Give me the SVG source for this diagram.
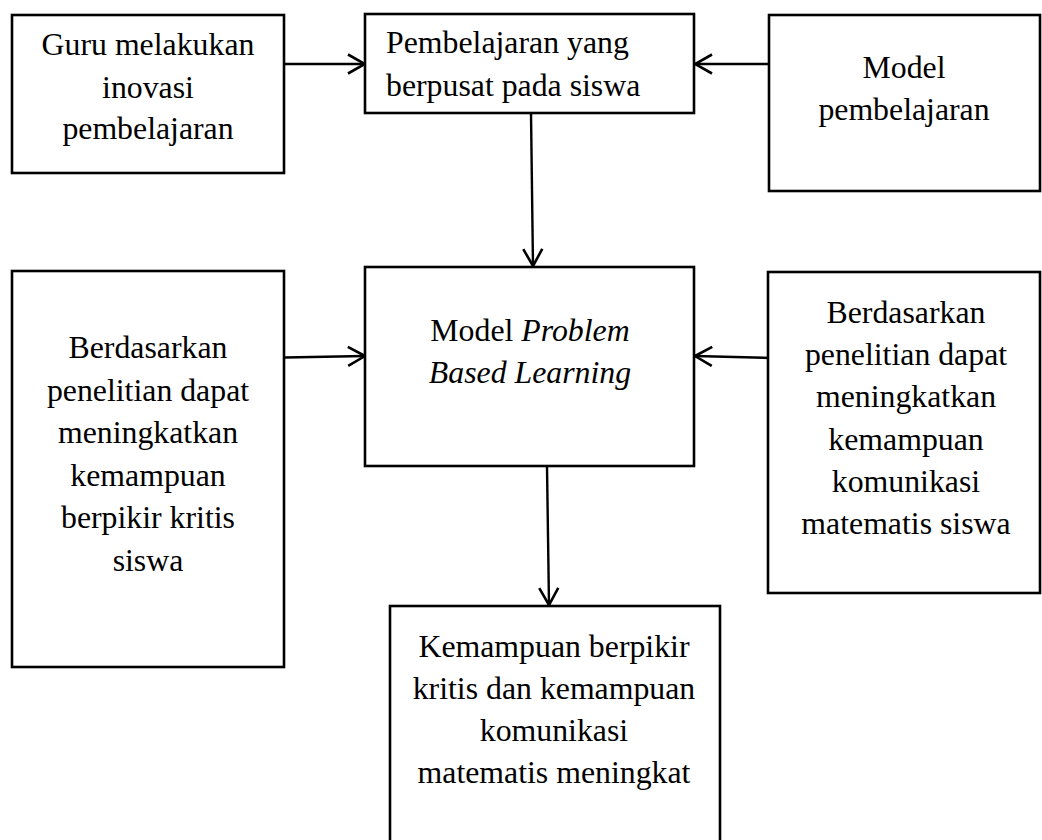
<svg xmlns="http://www.w3.org/2000/svg" width="1042" height="840" viewBox="0 0 1042 840">
<style>
.box{fill:#fff;stroke:#000;stroke-width:2.6}
.t{font-family:"Liberation Serif","Times New Roman",serif;font-size:31.8px;fill:#000;text-anchor:middle}
.l{text-anchor:start}
.i{font-style:italic}
.c{stroke:#000;stroke-width:2.4;fill:none}
</style>
<defs>
<marker id="arr" markerUnits="userSpaceOnUse" viewBox="0 0 20 22" refX="18" refY="11" markerWidth="20" markerHeight="22" orient="auto">
<path d="M1,1.5 L18,11 L1,20.5" fill="none" stroke="#000" stroke-width="2.6"/>
</marker>
</defs>
<rect width="1042" height="840" fill="#fff"/>
<g id="connectors">
<line class="c" x1="285" y1="64" x2="365" y2="64" marker-end="url(#arr)"/>
<line class="c" x1="769" y1="64" x2="695" y2="64" marker-end="url(#arr)"/>
<line class="c" x1="531" y1="113" x2="533" y2="266" marker-end="url(#arr)"/>
<line class="c" x1="285" y1="357.5" x2="365" y2="356" marker-end="url(#arr)"/>
<line class="c" x1="772" y1="358" x2="695" y2="356" marker-end="url(#arr)"/>
<line class="c" x1="547" y1="466" x2="549" y2="605" marker-end="url(#arr)"/>
</g>
<g id="guru">
<rect class="box" x="12" y="15" width="272" height="158"/>
<text class="t" x="148" y="55">Guru melakukan</text>
<text class="t" x="148" y="97.5">inovasi</text>
<text class="t" x="148" y="139">pembelajaran</text>
</g>
<g id="pembelajaran">
<rect class="box" x="365" y="14" width="329" height="99"/>
<text class="t l" x="386" y="53">Pembelajaran yang</text>
<text class="t l" x="386" y="96">berpusat pada siswa</text>
</g>
<g id="model">
<rect class="box" x="769" y="15" width="271" height="176"/>
<text class="t" x="904" y="78">Model</text>
<text class="t" x="904" y="120">pembelajaran</text>
</g>
<g id="kritis">
<rect class="box" x="12" y="271" width="272" height="396"/>
<text class="t" x="148" y="358">Berdasarkan</text>
<text class="t" x="148" y="401">penelitian dapat</text>
<text class="t" x="148" y="443">meningkatkan</text>
<text class="t" x="148" y="486">kemampuan</text>
<text class="t" x="148" y="528">berpikir kritis</text>
<text class="t" x="148" y="571">siswa</text>
</g>
<g id="pbl">
<rect class="box" x="365" y="267" width="329" height="199"/>
<text class="t" x="530" y="341">Model <tspan class="i">Problem</tspan></text>
<text class="t i" x="530" y="383">Based Learning</text>
</g>
<g id="komunikasi">
<rect class="box" x="768" y="272" width="272" height="321"/>
<text class="t" x="906" y="323">Berdasarkan</text>
<text class="t" x="906" y="365">penelitian dapat</text>
<text class="t" x="906" y="407">meningkatkan</text>
<text class="t" x="906" y="450">kemampuan</text>
<text class="t" x="906" y="492">komunikasi</text>
<text class="t" x="906" y="534">matematis siswa</text>
</g>
<g id="hasil">
<rect class="box" x="390" y="606" width="330" height="240"/>
<text class="t" x="554" y="657">Kemampuan berpikir</text>
<text class="t" x="554" y="699">kritis dan kemampuan</text>
<text class="t" x="554" y="741">komunikasi</text>
<text class="t" x="554" y="783">matematis meningkat</text>
</g>
</svg>
